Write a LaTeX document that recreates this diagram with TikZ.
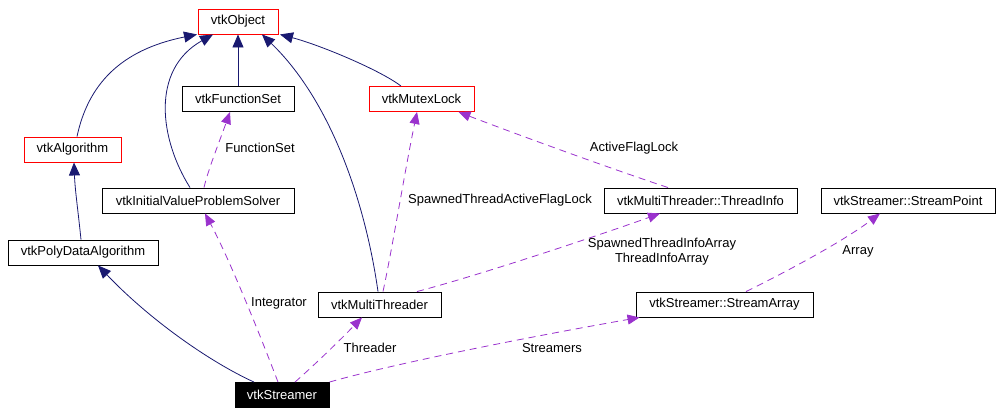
\documentclass[tikz,border=0pt]{standalone}
\usepackage{fontspec}
\setmainfont{Liberation Sans}
\usetikzlibrary{arrows.meta}
\definecolor{navy}{HTML}{191970}
\definecolor{orchid}{HTML}{9A32CD}
\tikzset{
  cls/.style={draw=black, line width=0.9pt, minimum height=25pt, inner sep=0pt, font=\fontsize{13}{15}\selectfont},
  redcls/.style={cls, draw=red},
  inh/.style={draw=navy, line width=0.8pt, -{Triangle[length=13pt,width=11pt]}},
  use/.style={draw=orchid, line width=0.8pt, dash pattern=on 7pt off 5pt, -{Triangle[length=12pt,width=10pt]}},
  lbl/.style={font=\fontsize{13}{15}\selectfont, inner sep=0pt, align=center}
}

\begin{document}
\begin{tikzpicture}[x=1pt,y=-1pt]
        \useasboundingbox (0,0) rectangle (1007,415);
        \node[redcls, minimum width=80pt] (obj) at (238,21.5) {vtkObject};
        \node[cls, minimum width=112pt] (fs) at (238,99) {vtkFunctionSet};
        \node[redcls, minimum width=105pt] (mutex) at (421.5,99) {vtkMutexLock};
        \node[redcls, minimum width=97pt] (alg) at (72.5,149.5) {vtkAlgorithm};
        \node[cls, minimum width=192pt] (ivp) at (198,200.5) {vtkInitialValueProblemSolver};
        \node[cls, minimum width=193pt] (ti) at (700.5,200.5) {vtkMultiThreader::ThreadInfo};
        \node[cls, minimum width=174pt] (sp) at (908,200.5) {vtkStreamer::StreamPoint};
        \node[cls, minimum width=150pt] (pda) at (83,252.5) {vtkPolyDataAlgorithm};
        \node[cls, minimum width=123pt] (mt) at (379.5,304.5) {vtkMultiThreader};
        \node[cls, minimum width=177pt] (sa) at (724.5,304.5) {vtkStreamer::StreamArray};
        \node[cls, fill=black, text=white, minimum width=94pt] (str) at (282,395) {vtkStreamer};

        \draw[inh] ([xshift=4.5pt]alg.north) .. controls (88,85) and (120,50) .. ([xshift=-41pt]obj.south);
        \draw[inh] ([xshift=-8pt]ivp.north) .. controls (160,140) and (150,70) .. ([xshift=-25pt]obj.south);
        \draw[inh] (fs.north) -- (obj.south);
        \draw[inh] ([xshift=-1.5pt]mt.north) .. controls (365,200) and (330,100) .. ([xshift=24pt]obj.south);
        \draw[inh] ([xshift=-20.5pt]mutex.north) .. controls (380,70) and (320,45) .. ([xshift=42pt]obj.south);
        \draw[inh] ([xshift=-2pt]pda.north) .. controls (78,210) and (75,190) .. ([xshift=1.5pt]alg.south);
        \draw[inh] ([xshift=-28pt]str.north) .. controls (210,362) and (150,320) .. ([xshift=15pt]pda.south);

        \draw[use] ([xshift=-4pt]str.north) .. controls (262,340) and (230,260) .. ([xshift=7pt]ivp.south);
        \node[lbl] (integrator) at (279,303) {Integrator};
        \draw[use] ([xshift=13pt]str.north) .. controls (320,360) and (345,335) .. ([xshift=-17.5pt]mt.south);
        \node[lbl] (threader) at (370,348) {Threader};
        \draw[use] (str.north east) .. controls (400,362) and (540,335) .. ([xshift=4pt]sa.south west);
        \node[lbl] (streamers) at (552,348) {Streamers};
        \draw[use] ([xshift=6pt]ivp.north) .. controls (208,170) and (220,140) .. ([xshift=-8pt]fs.south);
        \node[lbl] (functionset) at (260,148) {FunctionSet};
        \draw[use] ([xshift=3.5pt]mt.north) .. controls (392,250) and (405,170) .. ([xshift=-4.5pt]mutex.south);
        \node[lbl] (spawnedlock) at (500,200) {SpawnedThreadActiveFlagLock};
        \draw[use] ([xshift=37.5pt]mt.north) .. controls (480,275) and (600,235) .. ([xshift=-40.5pt]ti.south);
        \node[lbl] (infoarray) at (662,252) {SpawnedThreadInfoArray\\ThreadInfoArray};
        \draw[use] ([xshift=-32.5pt]ti.north) .. controls (600,165) and (500,128) .. ([xshift=-16pt]mutex.south east);
        \node[lbl] (activelock) at (634,148) {ActiveFlagLock};
        \draw[use] ([xshift=21.5pt]sa.north) .. controls (790,270) and (845,240) .. ([xshift=-28pt]sp.south);
        \node[lbl] (array) at (858,251) {Array};
\end{tikzpicture}
\end{document}
